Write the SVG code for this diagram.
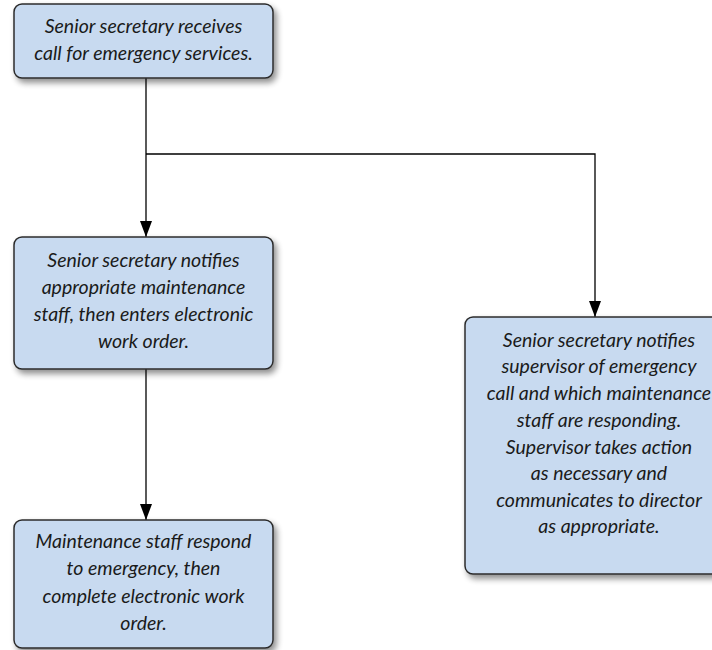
<svg xmlns="http://www.w3.org/2000/svg" width="712" height="650" viewBox="0 0 712 650">
<defs>
<filter id="sh" x="-10%" y="-10%" width="130%" height="130%">
<feGaussianBlur in="SourceAlpha" stdDeviation="3"/>
<feOffset dx="3" dy="4" result="b"/>
<feComponentTransfer><feFuncA type="linear" slope="0.45"/></feComponentTransfer>
<feMerge><feMergeNode/><feMergeNode in="SourceGraphic"/></feMerge>
</filter>
<marker id="arr" markerWidth="16" markerHeight="12" refX="16" refY="6" orient="auto" markerUnits="userSpaceOnUse" viewBox="0 0 16 12">
<path d="M0,0 L16,6 L0,12 Z" fill="#000"/>
</marker>
</defs>
<style>
.box{fill:#c8daf0;stroke:#2b2b2b;stroke-width:1.5;filter:url(#sh)}
.t{font-family:Lato,"Open Sans",sans-serif;font-style:italic;font-size:19.5px;fill:#1a1a1a;text-anchor:middle}
.c{fill:none;stroke:#000;stroke-width:1.3}
</style>
<g id="connectors">
<path class="c" d="M146,78 V237" marker-end="url(#arr)"/>
<path class="c" d="M146,154 H595 V317" marker-end="url(#arr)"/>
<path class="c" d="M146,369 V520" marker-end="url(#arr)"/>
</g>
<g id="n1">
<rect class="box" x="14" y="4" width="259" height="74" rx="8"/>
<text class="t" x="143.5" y="33">Senior secretary receives</text>
<text class="t" x="143.5" y="60">call for emergency services.</text>
</g>
<g id="n2">
<rect class="box" x="14" y="237" width="259" height="132" rx="8"/>
<text class="t" x="143.5" y="267">Senior secretary notifies</text>
<text class="t" x="143.5" y="294">appropriate maintenance</text>
<text class="t" x="143.5" y="321">staff, then enters electronic</text>
<text class="t" x="143.5" y="348">work order.</text>
</g>
<g id="n3">
<rect class="box" x="14" y="520" width="259" height="128" rx="8"/>
<text class="t" x="143.5" y="548">Maintenance staff respond</text>
<text class="t" x="143.5" y="575">to emergency, then</text>
<text class="t" x="143.5" y="603">complete electronic work</text>
<text class="t" x="143.5" y="630">order.</text>
</g>
<g id="n4">
<rect class="box" x="465" y="317" width="262" height="257" rx="8"/>
<text class="t" x="599" y="347">Senior secretary notifies</text>
<text class="t" x="599" y="373">supervisor of emergency</text>
<text class="t" x="599" y="400">call and which maintenance</text>
<text class="t" x="599" y="427">staff are responding.</text>
<text class="t" x="599" y="454">Supervisor takes action</text>
<text class="t" x="599" y="480">as necessary and</text>
<text class="t" x="599" y="507">communicates to director</text>
<text class="t" x="599" y="533">as appropriate.</text>
</g>
</svg>
